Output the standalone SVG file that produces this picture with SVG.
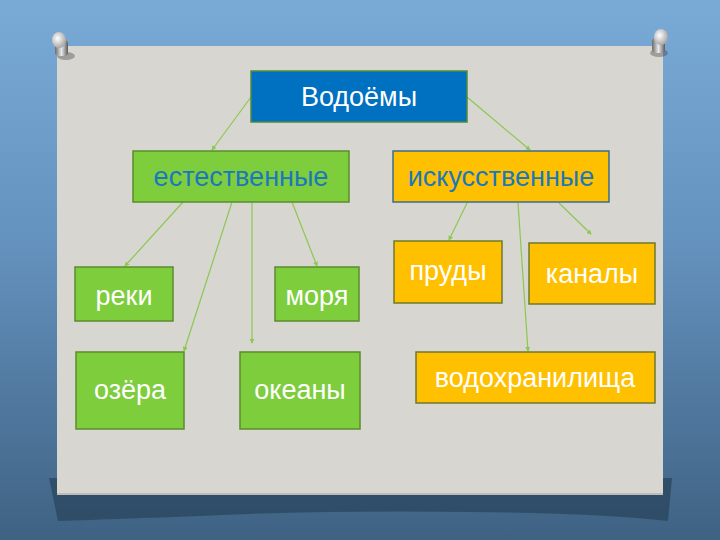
<svg xmlns="http://www.w3.org/2000/svg" width="720" height="540" viewBox="0 0 720 540">
<defs>
<linearGradient id="bg" x1="0" y1="0" x2="0" y2="1">
<stop offset="0" stop-color="#7aaad6"/>
<stop offset="0.45" stop-color="#6492be"/>
<stop offset="1" stop-color="#3f6283"/>
</linearGradient>
<linearGradient id="pinBody" x1="0" y1="0" x2="1" y2="0">
<stop offset="0" stop-color="#6b6b6b"/>
<stop offset="0.5" stop-color="#e8e8e8"/>
<stop offset="1" stop-color="#5a5a5a"/>
</linearGradient>
<radialGradient id="pinHead" cx="0.4" cy="0.4" r="0.6">
<stop offset="0" stop-color="#ffffff"/>
<stop offset="1" stop-color="#a8a8a8"/>
</radialGradient>
<marker id="arr" viewBox="0 0 6 6" refX="5" refY="3" markerWidth="5" markerHeight="5" orient="auto" markerUnits="userSpaceOnUse">
<path d="M0,0 L6,3 L0,6 z" fill="#8cc850"/>
</marker>
<style>
.lbl{font-family:"Liberation Sans",Arial,sans-serif;font-size:27px;text-anchor:middle;fill:#ffffff}
.blue{fill:#1b78bd}
.g{fill:#7dcd3c;stroke:#5b8d2c;stroke-width:1.5}
.y{fill:#ffc000;stroke:#6f7a2a;stroke-width:1.5}
.conn line{stroke:#8cc850;stroke-width:1.2;marker-end:url(#arr)}
</style>
</defs>
<rect width="720" height="540" fill="url(#bg)"/>
<!-- board shadow -->
<path d="M49,478 L672,478 L668,521 Q600,513 470,512 Q330,510 200,516 Q120,519 58,521 Z" fill="#2c4760" opacity="0.8"/>
<!-- board -->
<rect x="57" y="46" width="606" height="449" fill="#d7d6d1"/>
<rect x="57" y="493" width="606" height="2" fill="#bdbcb7"/>
<!-- pins -->
<g id="pin-left">
<ellipse cx="66" cy="56" rx="9" ry="4" fill="#333" opacity="0.35"/>
<rect x="55" y="40" width="13" height="16" rx="4" fill="url(#pinBody)"/>
<ellipse cx="59" cy="40" rx="7" ry="8" fill="url(#pinHead)"/>
</g>
<g id="pin-right">
<ellipse cx="659" cy="53" rx="9" ry="4" fill="#333" opacity="0.35"/>
<rect x="652" y="38" width="13" height="15" rx="4" fill="url(#pinBody)"/>
<ellipse cx="661" cy="37" rx="7" ry="8" fill="url(#pinHead)"/>
</g>
<!-- connectors -->
<g id="connectors" class="conn">
<line x1="251" y1="97" x2="212" y2="150"/>
<line x1="467" y1="97" x2="530" y2="150"/>
<line x1="183" y1="202" x2="125" y2="266"/>
<line x1="232" y1="202" x2="184" y2="351"/>
<line x1="252" y1="202" x2="252" y2="343"/>
<line x1="292" y1="202" x2="317" y2="266"/>
<line x1="467" y1="203" x2="449" y2="240"/>
<line x1="518" y1="203" x2="528" y2="351"/>
<line x1="559" y1="203" x2="591" y2="234"/>
</g>
<!-- nodes -->
<g id="node-vodoemy">
<rect x="251" y="71" width="216" height="51" fill="#0070c0" stroke="#4f8a3c" stroke-width="1.5"/>
<text class="lbl" x="359" y="106">Водоёмы</text>
</g>
<g id="node-estestvennye">
<rect class="g" x="133" y="151" width="216" height="51"/>
<text class="lbl blue" x="241" y="186">естественные</text>
</g>
<g id="node-iskusstvennye">
<rect x="393" y="151" width="216" height="51" fill="#ffc000" stroke="#3a6d8e" stroke-width="1.5"/>
<text class="lbl blue" x="501" y="186">искусственные</text>
</g>
<g id="node-reki">
<rect class="g" x="75" y="267" width="98" height="54"/>
<text class="lbl" x="124" y="305">реки</text>
</g>
<g id="node-morya">
<rect class="g" x="275" y="267" width="84" height="54"/>
<text class="lbl" x="317" y="305">моря</text>
</g>
<g id="node-ozera">
<rect class="g" x="76" y="352" width="108" height="77"/>
<text class="lbl" x="130" y="399">озёра</text>
</g>
<g id="node-okeany">
<rect class="g" x="240" y="352" width="120" height="77"/>
<text class="lbl" x="300" y="399">океаны</text>
</g>
<g id="node-prudy">
<rect class="y" x="394" y="241" width="108" height="62"/>
<text class="lbl" x="448" y="280">пруды</text>
</g>
<g id="node-kanaly">
<rect class="y" x="529" y="243" width="126" height="61"/>
<text class="lbl" x="592" y="283">каналы</text>
</g>
<g id="node-vodohranilishcha">
<rect class="y" x="416" y="352" width="239" height="51"/>
<text class="lbl" x="535" y="387">водохранилища</text>
</g>
</svg>
